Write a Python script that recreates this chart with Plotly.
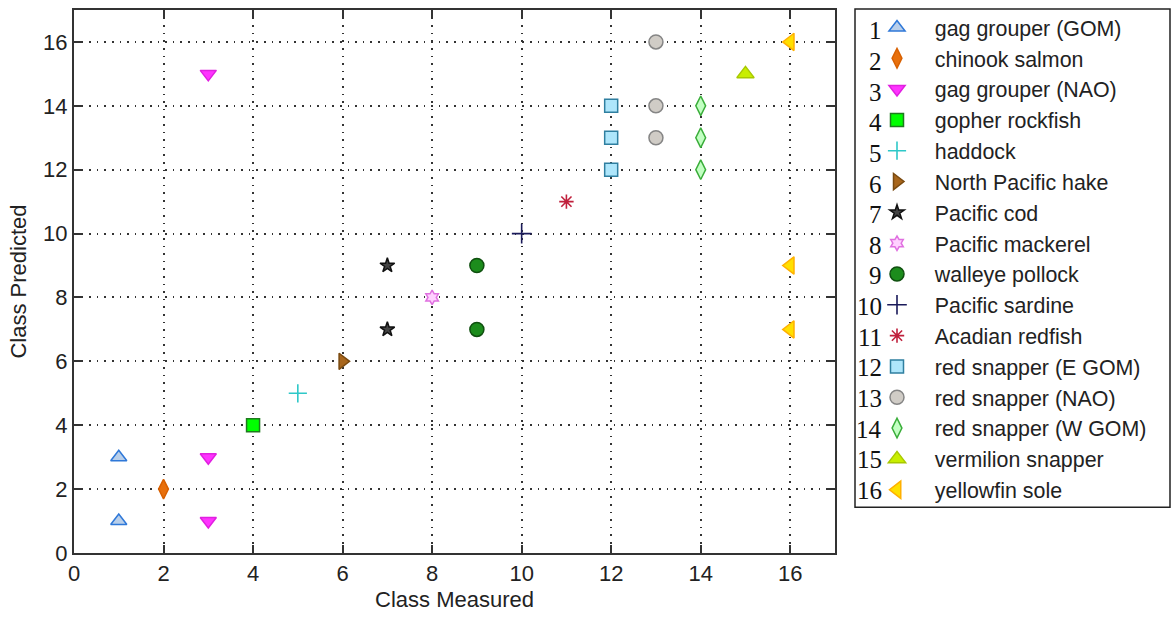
import plotly.graph_objects as go

names = ["gag grouper (GOM)", "chinook salmon", "gag grouper (NAO)", "gopher rockfish",
         "haddock", "North Pacific hake", "Pacific cod", "Pacific mackerel",
         "walleye pollock", "Pacific sardine", "Acadian redfish", "red snapper (E GOM)",
         "red snapper (NAO)", "red snapper (W GOM)", "vermilion snapper", "yellowfin sole"]

measured = [[1, 1], [2], [3, 3, 3], [4], [5], [6], [7, 7], [8], [9, 9], [10], [11],
            [12, 12, 12], [13, 13, 13], [14, 14, 14], [15], [16, 16, 16]]
predicted = [[1, 3], [2], [1, 3, 15], [4], [5], [6], [7, 9], [8], [7, 9], [10], [11],
             [12, 13, 14], [13, 14, 16], [12, 13, 14], [15], [7, 9, 16]]

symbols = ["triangle-up", "diamond-tall", "triangle-down", "square", "cross-thin",
           "triangle-right", "star", "hexagram", "circle", "cross-thin", "asterisk",
           "square", "circle", "diamond-tall", "triangle-up", "triangle-left"]
fills = ["#b9cfea", "#e8700c", "#ff33ff", "#00ff00", "#2ec8c8", "#a8661c", "#444444",
         "#ffd0ff", "#1c8c1c", "#1a1a5a", "#c0203c", "#aee6fb", "#d0ccc6", "#c2ffc2",
         "#c8ee00", "#ffe000"]
lines = ["#2f78d8", "#d86000", "#e020e0", "#1e7a1e", "#2ec8c8", "#7a4a10", "#111111",
         "#e070e0", "#0f4f0f", "#1a1a5a", "#c0203c", "#2f7fa0", "#858585", "#3aae3a",
         "#a8c800", "#ffb000"]
sizes = [14, 14, 14, 13, 13, 14, 11, 11, 14, 14, 12, 13, 14, 14, 15, 15]

xticks = [0, 2, 4, 6, 8, 10, 12, 14, 16]
yticks = [0, 2, 4, 6, 8, 10, 12, 14, 16]

fig = go.Figure()
for i, n in enumerate(names):
    open_sym = symbols[i] in ("cross-thin", "asterisk")
    fig.add_trace(go.Scatter(
        x=measured[i], y=predicted[i], mode="markers", name="\u00a0" * 3 + n,
        marker=dict(symbol=symbols[i] + ("-open" if open_sym else ""), size=sizes[i],
                    color=fills[i],
                    line=dict(color=lines[i], width=1.6 if open_sym else 1.5)),
    ))

L, R, T, B = 74, 835, 7, 553
W, H = 1172, 617
pw, ph = R - L, B - T

def px(xp):
    return (xp - L) / pw

def py(yp):
    return (B - yp) / ph

axis_common = dict(
    showline=True, linecolor="#333333", linewidth=2, mirror="ticks",
    ticks="inside", ticklen=8, tickwidth=2, tickcolor="#333333",
    showgrid=True, gridcolor="#333333", griddash="1.6px,6px", gridwidth=1.6,
    zeroline=False, tickfont=dict(family="Liberation Sans, Arial", size=22, color="#222222"),
)
fig.update_xaxes(range=[0, 17], tickvals=xticks, title=dict(text="Class Measured", standoff=6,
                 font=dict(family="Liberation Sans, Arial", size=22, color="#222222")), **axis_common)
fig.update_yaxes(range=[0, 17], tickvals=yticks, title=dict(text="Class Predicted", standoff=10,
                 font=dict(family="Liberation Sans, Arial", size=22, color="#222222")), **axis_common)

shapes = [dict(type="rect", xref="paper", yref="paper", x0=px(855), x1=px(1170),
               y0=py(507), y1=py(6), line=dict(color="#222222", width=1.5))]
annotations = []
for i in range(len(names)):
    annotations.append(dict(xref="paper", yref="paper", x=px(884), y=py(28 + 30.8 * i),
                            xanchor="right", yanchor="middle", showarrow=False,
                            text=str(i + 1),
                            font=dict(family="Liberation Serif, Times New Roman", size=25, color="#111111")))

fig.update_layout(
    width=W, height=H, margin=dict(l=L, r=W - R, t=T, b=H - B, pad=0),
    paper_bgcolor="white", plot_bgcolor="white",
    shapes=shapes, annotations=annotations,
    legend=dict(x=px(877), y=py(4), xanchor="left", yanchor="top", maxheight=600,
                bgcolor="rgba(0,0,0,0)", borderwidth=0, tracegroupgap=0,
                font=dict(family="Liberation Sans, Arial", size=21.4, color="#222222")),
)
fig.write_html("out.html")
